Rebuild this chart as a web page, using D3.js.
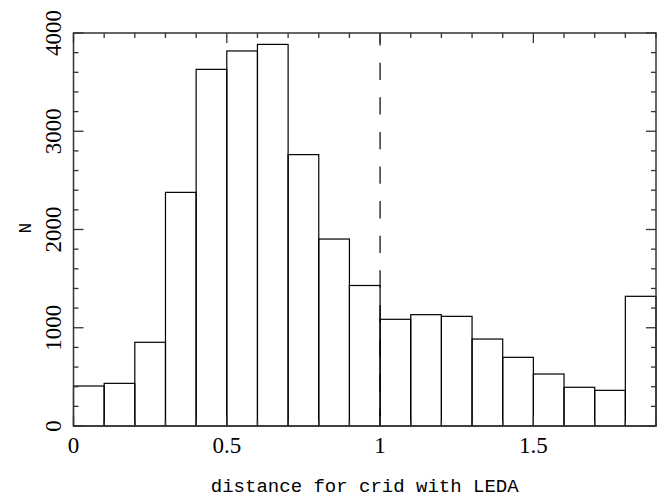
<!DOCTYPE html>
<html><head><meta charset="utf-8">
<script src="https://cdn.jsdelivr.net/npm/d3@7"></script>
<style>html,body{margin:0;padding:0;background:#fff;overflow:hidden;}</style>
</head><body>
<script>
const binStarts = [0,0.1,0.2,0.3,0.4,0.5,0.6,0.7,0.8,0.9,1.0,1.1,1.2,1.3,1.4,1.5,1.6,1.7,1.8];
const binWidth = 0.1;
const counts = [407,434,852,2378,3630,3817,3884,2762,1903,1430,1086,1133,1116,885,699,529,394,363,1320];
const xTickLabels = [0,0.5,1,1.5];
const yTickLabels = [0,1000,2000,3000,4000];
const xLabel = "distance for crid with LEDA";
const yLabel = "N";
const refLine = 1;

const W=659,H=498;
const m={l:73.5,r:3,t:33,b:72};
const svg=d3.select("body").append("svg").attr("width",W).attr("height",H).style("display","block");
const x=d3.scaleLinear().domain([0,1.9]).range([m.l,W-m.r]);
const y=d3.scaleLinear().domain([0,4000]).range([H-m.b,m.t]);
const fontTick="'Liberation Serif', serif";
const fontLab="'Liberation Mono', monospace";

// bars
svg.append("g").selectAll("rect").data(binStarts).join("rect")
 .attr("x",(d)=>x(d)).attr("width",(d)=>x(d+binWidth)-x(d))
 .attr("y",(d,i)=>y(counts[i])).attr("height",(d,i)=>y(0)-y(counts[i]))
 .attr("fill","none").attr("stroke","#000").attr("stroke-width",1.2);

// dashed line
svg.append("line").attr("x1",x(refLine)).attr("x2",x(refLine))
 .attr("y1",y(0)).attr("y2",y(4000))
 .attr("stroke","#000").attr("stroke-width",1.2).attr("stroke-dasharray","17.3,17.3");

// frame
svg.append("rect").attr("x",x(0)).attr("y",y(4000)).attr("width",x(1.9)-x(0)).attr("height",y(0)-y(4000))
 .attr("fill","none").attr("stroke","#333").attr("stroke-width",1.5);

const tk=svg.append("g").attr("stroke","#333").attr("stroke-width",1.3);
const xMinor=d3.range(0,19.5,1).map(v=>v/10);
xMinor.forEach(v=>{
  const major=Math.abs(v*2-Math.round(v*2))<1e-6;
  const L=major?10:5;
  tk.append("line").attr("x1",x(v)).attr("x2",x(v)).attr("y1",y(0)).attr("y2",y(0)-L);
  tk.append("line").attr("x1",x(v)).attr("x2",x(v)).attr("y1",y(4000)).attr("y2",y(4000)+L);
});
d3.range(0,4001,200).forEach(v=>{
  const major=v%1000===0;
  const L=major?10:5;
  tk.append("line").attr("y1",y(v)).attr("y2",y(v)).attr("x1",x(0)).attr("x2",x(0)+L);
  tk.append("line").attr("y1",y(v)).attr("y2",y(v)).attr("x1",x(1.9)).attr("x2",x(1.9)-L);
});

// tick labels
svg.append("g").selectAll("text").data(xTickLabels).join("text")
 .attr("x",d=>x(d)).attr("y",453).attr("text-anchor","middle")
 .attr("font-family",fontTick).attr("font-size",23).attr("fill","#000").text(d=>d);
svg.append("g").selectAll("text").data(yTickLabels).join("text")
 .attr("transform",d=>`translate(61,${y(d)}) rotate(-90)`).attr("text-anchor","middle")
 .attr("font-family",fontTick).attr("font-size",23).attr("fill","#000").text(d=>d);

// axis labels
svg.append("text").attr("x",(x(0)+x(1.9))/2).attr("y",492).attr("text-anchor","middle")
 .attr("font-family",fontLab).attr("font-size",19).attr("fill","#000").text(xLabel);
svg.append("text").attr("transform",`translate(31,228) rotate(-90)`).attr("text-anchor","middle")
 .attr("font-family",fontLab).attr("font-size",18).attr("fill","#000").text(yLabel);
</script>
</body></html>
